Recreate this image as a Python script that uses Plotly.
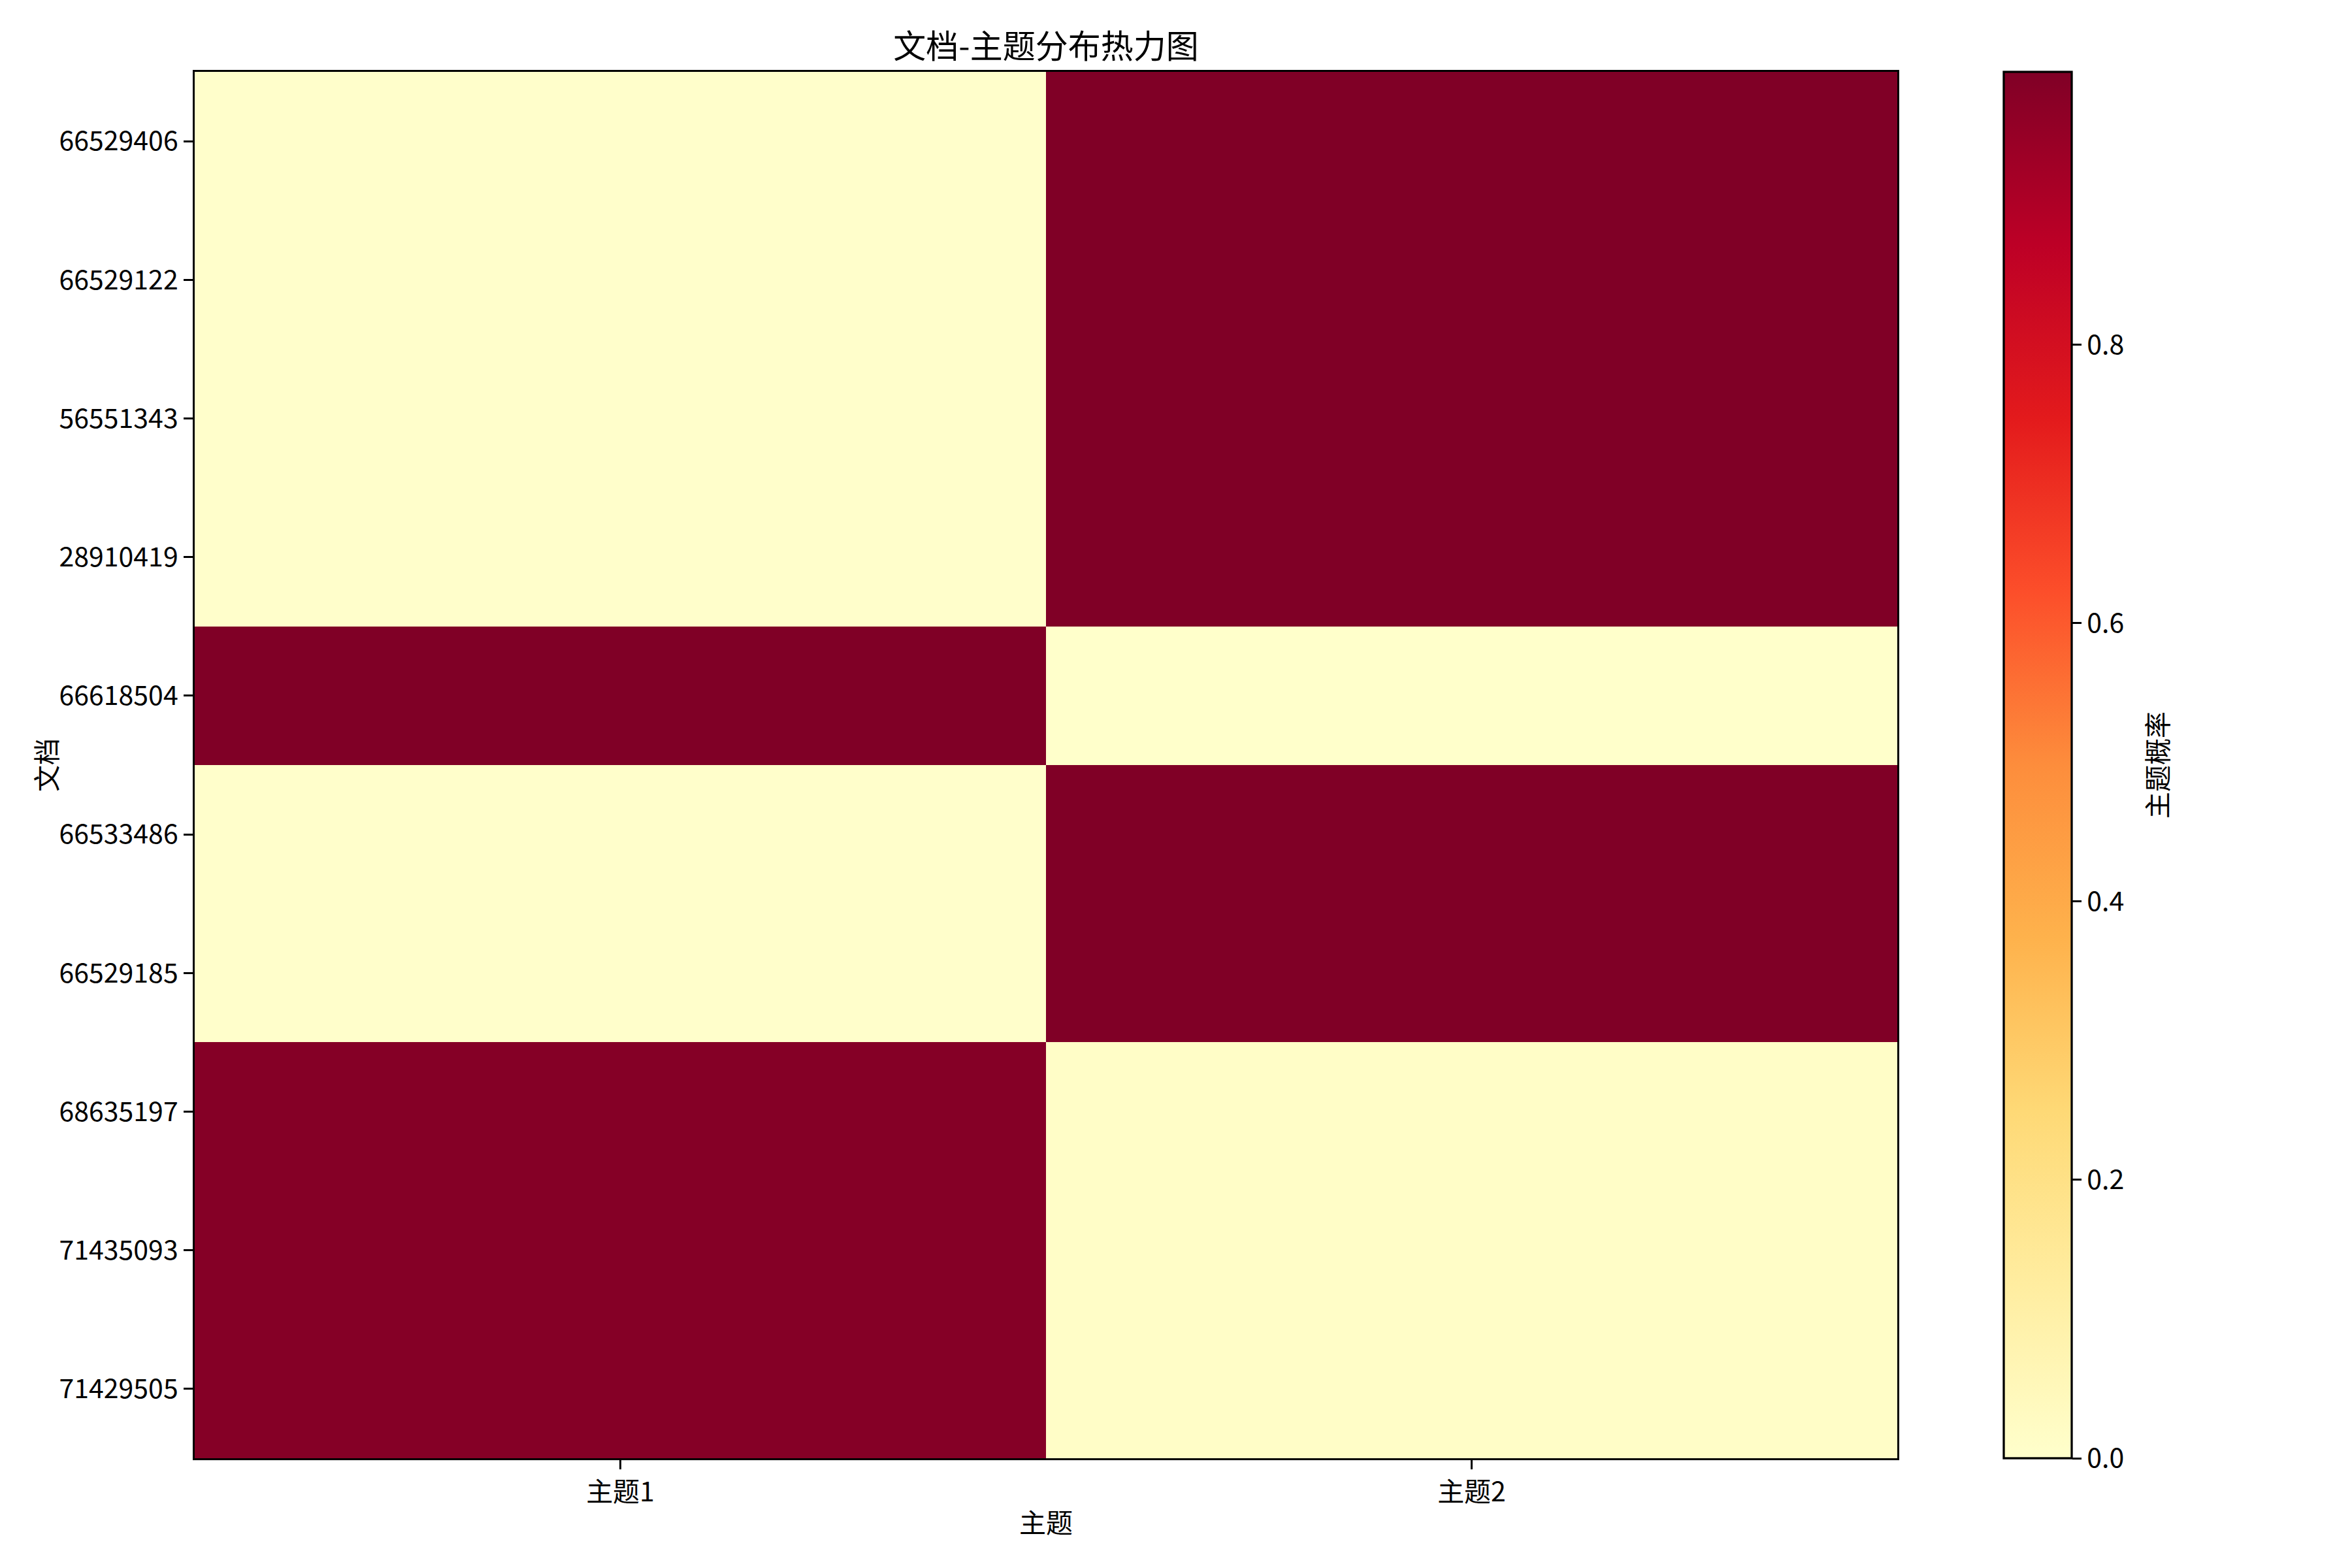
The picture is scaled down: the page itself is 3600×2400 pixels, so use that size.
import plotly.graph_objects as go

documents = ["66529406", "66529122", "56551343", "28910419", "66618504",
             "66533486", "66529185", "68635197", "71435093", "71429505"]
topics = ["主题1", "主题2"]
topic1_prob = [0.004, 0.004, 0.004, 0.004, 0.996, 0.004, 0.004, 0.985, 0.986, 0.985]
topic2_prob = [0.996, 0.996, 0.996, 0.996, 0.003, 0.996, 0.996, 0.015, 0.014, 0.015]
cbar_ticks = [0.0, 0.2, 0.4, 0.6, 0.8]
z_min, z_max = 0.0, 0.996

ylorrd = ["#ffffcc", "#ffeda0", "#fed976", "#feb24c", "#fd8d3c",
          "#fc4e2a", "#e31a1c", "#bd0026", "#800026"]
colorscale = [[i / (len(ylorrd) - 1), c] for i, c in enumerate(ylorrd)]

z = [[a, b] for a, b in zip(topic1_prob, topic2_prob)]

W, H = 3600, 2400
L, R, T, B = 298, 2904, 110, 2232
FONT = "Noto Sans CJK SC, SimHei, sans-serif"
tick_font = dict(family=FONT, size=41, color="black")
label_font = dict(family=FONT, size=41, color="black")

fig = go.Figure(go.Heatmap(
    z=z, x=topics, y=documents,
    colorscale=colorscale, zmin=z_min, zmax=z_max,
    colorbar=dict(
        x=(3067 - L) / (R - L), xanchor="left", xref="paper",
        y=0.5, yanchor="middle", len=1.0, lenmode="fraction",
        thickness=104, thicknessmode="pixels",
        outlinewidth=3.3, outlinecolor="black",
        ticks="outside", ticklen=14, tickwidth=3.3, tickcolor="black",
        tickvals=cbar_ticks, tickformat=".1f",
        tickfont=tick_font,
        xpad=0, ypad=0,
    ),
))

fig.update_layout(
    width=W, height=H,
    margin=dict(l=L, r=W - R, t=T, b=H - B, pad=0),
    paper_bgcolor="white", plot_bgcolor="white",
    font=dict(family=FONT, color="black"),
    title=dict(text="文档-主题分布热力图", x=(L + R) / 2 / W, xanchor="center",
               y=1 - 71 / H, yanchor="middle", yref="container",
               font=dict(family=FONT, size=50, color="black")),
    xaxis=dict(
        title=dict(text="主题", font=label_font, standoff=8),
        showline=True, linecolor="black", linewidth=3.3, mirror=True,
        ticks="outside", ticklen=14, tickwidth=3.3, tickcolor="black",
        tickfont=tick_font, showgrid=False, zeroline=False,
    ),
    yaxis=dict(
        autorange="reversed",
        showline=True, linecolor="black", linewidth=3.3, mirror=True,
        ticks="outside", ticklen=14, tickwidth=3.3, tickcolor="black",
        tickfont=tick_font, showgrid=False, zeroline=False,
    ),
    annotations=[
        dict(text="文档", textangle=-90, font=label_font, showarrow=False,
             xref="paper", yref="paper", x=(69 - L) / (R - L), y=0.5,
             xanchor="center", yanchor="middle"),
        dict(text="主题概率", textangle=-90, font=label_font, showarrow=False,
             xref="paper", yref="paper", x=(3300 - L) / (R - L), y=0.5,
             xanchor="center", yanchor="middle"),
    ],
)

fig.write_html("out.html")
